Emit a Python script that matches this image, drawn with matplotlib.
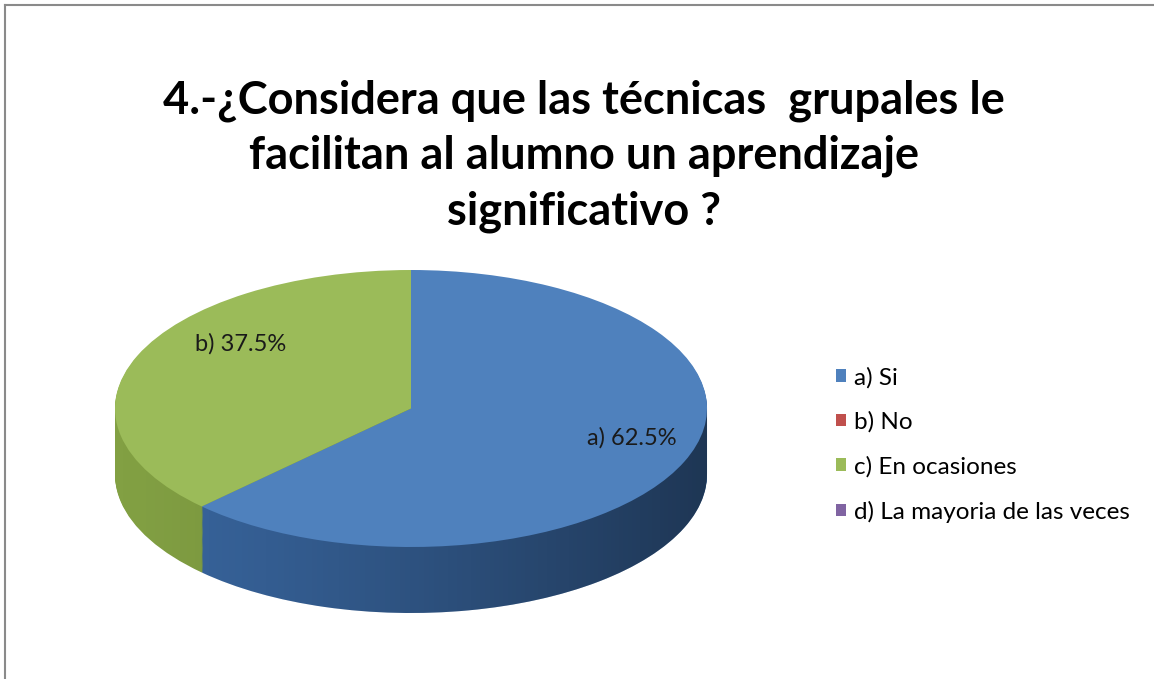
import numpy as np
import matplotlib.pyplot as plt
from matplotlib.patches import Patch, PathPatch
from matplotlib.path import Path

# datos de la grafica
categorias = ["a) Si", "b) No", "c) En ocasiones", "d) La mayoria de las veces"]
valores = [62.5, 0.0, 37.5, 0.0]
rotulos = ["a)", "", "b)", ""]  # letras que aparecen sobre el pastel
titulo = "4.-¿Considera que las técnicas  grupales le\nfacilitan al alumno un aprendizaje\nsignificativo ?"

colores = ["#4F81BD", "#C0504D", "#9BBB59", "#8064A2"]
colores_lado = ["#3A68A2", "#943A37", "#86A545", "#654F84"]

W, H = 1154, 679
fig = plt.figure(figsize=(W / 100, H / 100), dpi=100)
fig.patch.set_facecolor("white")

# ejes en toda la figura, pixel -> unidades del pastel
cx, cy, rx, ry = 411, 408.5, 296, 138.5  # centro y radios de la cara superior (px)
prof = 66 / ry  # profundidad del lado (unidades)
ax = fig.add_axes([0, 0, 1, 1])

# lado del pastel: varios pasteles apilados hacia abajo
n = 70
for k in range(n, 0, -1):
    dy = -prof * k / n
    ax.pie(valores, colors=colores_lado, startangle=90, counterclock=False,
           center=(0, dy), radius=1, frame=True,
           wedgeprops=dict(linewidth=0, antialiased=True))

# sombreado horizontal del lado (mas oscuro a la derecha)
t = np.linspace(np.pi, 2 * np.pi, 120)
verts = [(-1, 0)] + [(np.cos(a), np.sin(a) - prof) for a in t] + [(1, 0), (-1, 0)]
clip = PathPatch(Path(verts), transform=ax.transData, facecolor="none", edgecolor="none")
ax.add_patch(clip)
grad = np.linspace(0, 1, 256).reshape(1, -1)
img = np.zeros((1, 256, 4))
img[..., 3] = 0.03 + 0.45 * grad ** 1.3
im = ax.imshow(img, extent=(-1, 1, -1 - prof, 0.2), aspect="auto", zorder=3,
               interpolation="bilinear")
im.set_clip_path(clip)

# cara superior
wedges, _ = ax.pie(valores, colors=colores, startangle=90, counterclock=False,
                   center=(0, 0), radius=1, frame=True,
                   wedgeprops=dict(linewidth=0, antialiased=True))
for w in wedges:
    w.set_zorder(4)

ax.set_aspect("auto")
ax.set_xlim((0 - cx) / rx, (W - cx) / rx)
ax.set_ylim((cy - H) / ry, (cy - 0) / ry)
ax.axis("off")

# rotulos de porcentaje
pos_rotulos = {0: (0.745, -0.21), 2: (-0.575, 0.47)}
for i, (xr, yr) in pos_rotulos.items():
    ax.text(xr, yr, f"{rotulos[i]} {valores[i]:.1f}%", ha="center", va="center",
            fontsize=17, family="Lato", color="#1a1a1a", zorder=6)

# titulo
fig.text(584 / W, 1 - 156 / H, titulo, ha="center", va="center", fontsize=32.5,
         fontweight="bold", family="Lato", linespacing=1.38, color="black")

# leyenda
handles = [Patch(facecolor=c, edgecolor="none") for c in colores]
fig.legend(handles, categorias, loc="upper left", bbox_to_anchor=(826 / W, 1 - 357 / H),
           frameon=False, prop=dict(family="Lato", size=17.5), handlelength=0.42,
           handleheight=0.42, handletextpad=0.32, labelspacing=0.95, borderaxespad=0)

# borde gris arriba e izquierda
fig.add_artist(plt.Line2D([5 / W, 1], [1 - 5 / H, 1 - 5 / H], color="#8a8a8a", lw=1.5))
fig.add_artist(plt.Line2D([5 / W, 5 / W], [0, 1 - 5 / H], color="#8a8a8a", lw=1.5))

fig.savefig("out.png", dpi=100, facecolor="white")
